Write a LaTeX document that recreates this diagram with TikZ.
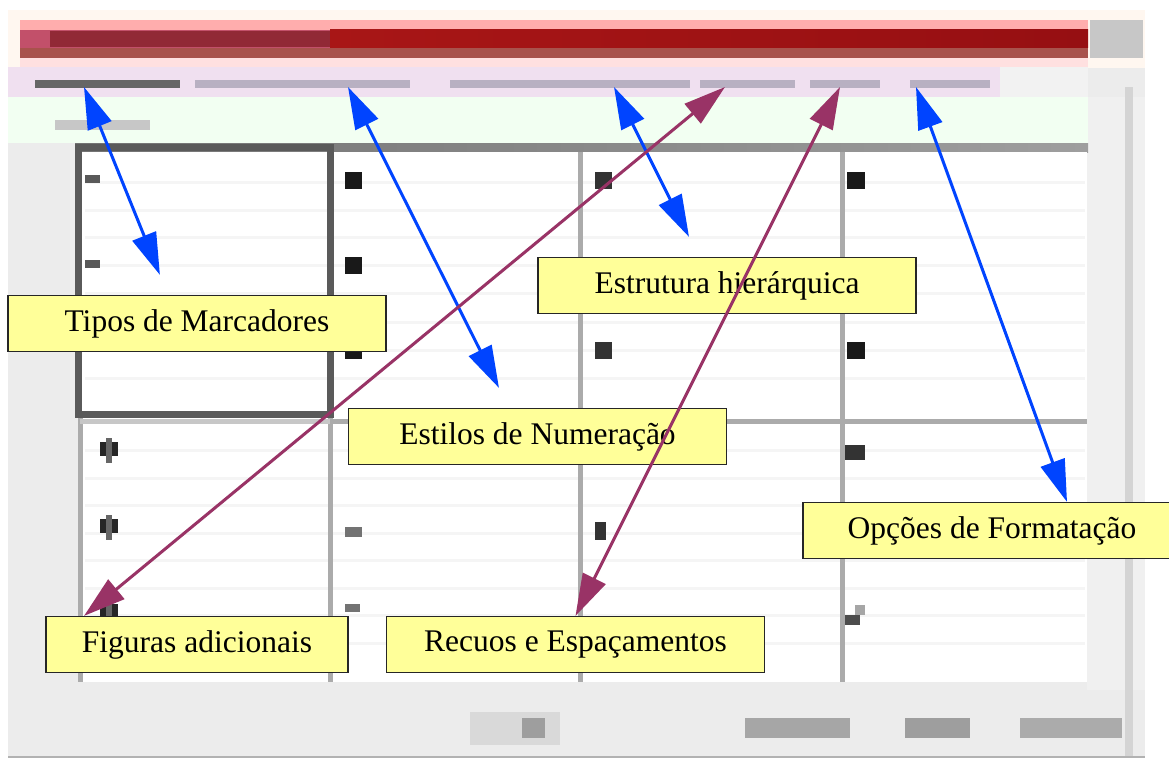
\documentclass[tikz,border=0pt]{standalone}
\usepackage{fontspec}
\setmainfont{Liberation Serif}
\usetikzlibrary{arrows.meta}

\definecolor{calloutyellow}{HTML}{FFFF99}
\definecolor{arrowblue}{HTML}{0044FF}
\definecolor{arrowpurple}{HTML}{993366}
\definecolor{titlered}{HTML}{960F12}
\definecolor{titlebright}{HTML}{A81616}
\definecolor{titlerose}{HTML}{C2506A}
\definecolor{titlebrown}{HTML}{A8524C}
\definecolor{framegray}{HTML}{ECECEC}
\definecolor{gridgray}{HTML}{ABABAB}
\definecolor{selgray}{HTML}{5A5A5A}
\definecolor{blurtext}{HTML}{B8B0C2}

\begin{document}
\begin{tikzpicture}[x=1pt,y=-1pt,
    callout/.style={draw=black!85, line width=1.2pt, fill=calloutyellow,
      minimum width=378pt, minimum height=56pt, inner sep=0pt,
      font=\fontsize{31.5}{36}\selectfont},
    bluearrow/.style={draw=arrowblue, line width=3pt,
      {Triangle[length=42pt,width=25pt]}-{Triangle[length=42pt,width=25pt]}},
    purplearrow/.style={draw=arrowpurple, line width=3pt,
      {Triangle[length=42pt,width=25pt]}-{Triangle[length=42pt,width=25pt]}},
    gridline/.style={draw=gridgray, line width=5pt},
    bullet/.style={fill=black!90}]
        \useasboundingbox (0,0) rectangle (1169,760);
        \clip (0,0) rectangle (1169,760);
        \fill[white] (0,0) rectangle (1169,760);

        % Dialog window
        \fill[framegray] (8,10) rectangle (1145,757);
        \fill[black!6] (1087,97) rectangle (1145,690);
        \fill[black!17] (1125,87) rectangle (1133,757);
        \draw[black!30, line width=2pt] (8,757) -- (1145,757);

        % Title bar
        \fill[orange!6!white] (8,10) rectangle (1145,68);
        \fill[red!32!white] (20,20) rectangle (1088,30);
        \fill[red!12!white] (20,58) rectangle (1088,67);
        \fill[titlerose] (20,30) rectangle (330,48);
        \fill[titlered!70!black, opacity=0.55] (50,31) rectangle (330,47);
        \shade[left color=titlebright, right color=titlered] (330,30) rectangle (1088,48);
        \fill[titlebrown] (20,48) rectangle (1088,58);
        \fill[black!22] (1090,20) rectangle (1143,58);

        % Tab row
        \fill[violet!12!white] (8,67) rectangle (1000,97);
        \fill[black!5] (1000,67) rectangle (1088,97);
        \fill[black!60] (35,80) rectangle (180,88);
        \fill[blurtext] (195,80) rectangle (410,88);
        \fill[blurtext] (450,80) rectangle (690,88);
        \fill[blurtext] (700,80) rectangle (795,88);
        \fill[blurtext] (810,80) rectangle (880,88);
        \fill[blurtext] (910,80) rectangle (990,88);

        % Sub row
        \fill[green!5!white] (8,97) rectangle (1088,143);
        \fill[black!22] (55,120) rectangle (150,130);

        % Grid of list styles
        \shade[left color=black!55, right color=black!38] (75,143) rectangle (1088,152);
        \fill[white] (80,152) rectangle (1087,682);
        \foreach \y in {182,210,237,265,293,322,350,378,450,478,505,533,560,588,615,643}
            \draw[black!4, line width=3pt] (85,\y) -- (1085,\y);
        \draw[gridline] (580,152) -- (580,682);
        \draw[gridline] (842,152) -- (842,682);
        \draw[gridline] (330,414) -- (330,682);
        \draw[gridline] (80,414) -- (80,682);
        \draw[gridline] (333,421) -- (1087,421);
        \draw[gridline, draw=black!22] (80,421) -- (330,421);
        \draw[selgray, line width=7pt] (78,147) rectangle (330,414);

        % Bullets, upper row
        \foreach \y in {175,260} \fill[black!65] (85,\y) rectangle (100,\y+8);
        \foreach \y in {172,257,342} {
            \fill[bullet] (345,\y) rectangle (362,\y+17);
            \fill[bullet] (847,\y) rectangle (865,\y+17);
        }
        \foreach \y in {172,342} \fill[black!80] (595,\y) rectangle (612,\y+17);

        % Bullets, lower row
        \foreach \y in {438,515,600} {
            \fill[black!85] (100,\y+4) rectangle (118,\y+18);
            \fill[black!60] (106,\y) rectangle (112,\y+25);
        }
        \fill[black!55] (345,527) rectangle (362,537);
        \fill[black!55] (345,604) rectangle (360,612);
        \fill[black!80] (595,522) rectangle (606,540);
        \fill[black!80] (845,445) rectangle (865,460);
        \fill[black!70] (845,615) rectangle (860,625);
        \fill[black!35] (855,605) rectangle (865,615);

        % Buttons
        \fill[black!15] (470,712) rectangle (560,745);
        \fill[black!38] (522,718) rectangle (545,738);
        \fill[black!35] (745,718) rectangle (850,738);
        \fill[black!38] (905,718) rectangle (970,738);
        \fill[black!33] (1020,718) rectangle (1122,738);

        % Callouts
        \node[callout] (tipos) at (197,323.5) {Tipos de Marcadores};
        \node[callout] (estrutura) at (727,285.5) {Estrutura hierárquica};
        \node[callout] (estilos) at (537.5,436.5) {Estilos de Numeração};
        \node[callout] (opcoes) at (992,530.5) {Opções de Formatação};
        \node[callout, minimum width=302pt] (figuras) at (197,644.5) {Figuras adicionais};
        \node[callout] (recuos) at (575.5,644.5) {Recuos e Espaçamentos};

        % Tab targets
        \coordinate (tabmarc) at (84,87);
        \coordinate (tabnum) at (348,87);
        \coordinate (tabestr) at (614,87);
        \coordinate (tabform) at (916,87);
        \coordinate (tabfig) at (725,87);
        \coordinate (tabrec) at (840,87);

        % Arrows
        \draw[bluearrow, shorten <=21.6pt] ([xshift=-29pt]tipos.north) -- (tabmarc);
        \draw[bluearrow, shorten <=22.4pt] ([xshift=-28.5pt]estilos.north) -- (tabnum);
        \draw[bluearrow, shorten <=22.4pt] ([xshift=-28pt]estrutura.north) -- (tabestr);
        \draw[bluearrow] ([xshift=75pt]opcoes.north) -- (tabform);
        \draw[purplearrow] ([xshift=-113pt]figuras.north) -- (tabfig);
        \draw[purplearrow] (recuos.north) -- (tabrec);
    \end{tikzpicture}
\end{document}
